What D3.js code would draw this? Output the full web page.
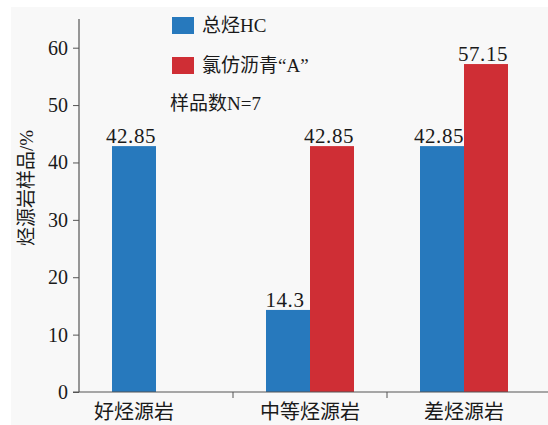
<!DOCTYPE html>
<html>
<head>
<meta charset="utf-8">
<script src="https://cdn.jsdelivr.net/npm/d3@7/dist/d3.min.js"></script>
<style>
  html, body { margin: 0; padding: 0; background: #ffffff; }
  svg { display: block; }
</style>
</head>
<body>
<svg id="chart" width="548" height="425"></svg>
<script>
// Source-rock quality categories and share of samples (%)
const categories = ["好烃源岩", "中等烃源岩", "差烃源岩"];
const seriesNames = ["总烃HC", "氯仿沥青“A”"];
const totalHC = [42.85, 14.3, 42.85];
const bitumenA = [0, 42.85, 57.15];
const yTicks = [0, 10, 20, 30, 40, 50, 60];
const sampleNote = "样品数N=7";
const yTitle = "烃源岩样品/%";

const colors = ["#2779bd", "#cf2e35"];
const seriesValues = [totalHC, bitumenA];

const SERIF = "'Liberation Serif', 'DejaVu Serif', serif";
const CJK = "'Liberation Serif', 'Noto Sans CJK SC', serif";

const svg = d3.select("#chart");
const W = 548, H = 425;
const margin = { left: 79, top: 19, bottom: 33 };
const y0 = H - margin.bottom; // baseline y

// panel background
svg.append("rect").attr("x", 11).attr("y", 7).attr("width", W - 11).attr("height", H - 7)
  .attr("fill", "#f8f8f8");

const x = d3.scaleBand().domain(categories).range([margin.left, margin.left + 462]).paddingInner(0).paddingOuter(0);
const barW = 44;
const y = d3.scaleLinear().domain([0, 65]).range([y0, margin.top]);

// bars with value labels
const g = svg.append("g");
categories.forEach((c, i) => {
  const cx = x(c) + x.bandwidth() / 2;
  seriesValues.forEach((vals, s) => {
    const v = vals[i];
    if (!v) return;
    const bx = s === 0 ? cx - barW : cx;
    g.append("rect")
      .attr("x", bx).attr("y", y(v))
      .attr("width", barW).attr("height", y(0) - y(v))
      .attr("fill", colors[s]);
    g.append("text")
      .attr("x", bx + barW / 2 - 3).attr("y", y(v) - 3)
      .attr("text-anchor", "middle")
      .attr("font-family", SERIF)
      .attr("font-size", 21).attr("letter-spacing", "0.6px")
      .attr("fill", "#1a1a1a")
      .text(d3.format(".2~f")(v));
  });
});

// y axis
const yAxis = d3.axisLeft(y).tickValues(yTicks).tickSize(6).tickPadding(5).tickFormat(d3.format("d"));
const ya = svg.append("g").attr("transform", `translate(${margin.left},0)`).call(yAxis);
ya.attr("font-family", SERIF);
ya.select(".domain").attr("d", `M0,${margin.top}V${y0}`).attr("stroke", "#555").attr("stroke-width", 1.2);
ya.selectAll(".tick line").attr("stroke", "#555");
ya.selectAll(".tick text").attr("font-size", 20).attr("fill", "#1a1a1a").attr("font-family", SERIF);

// x axis baseline with separators between categories
const xa = svg.append("g");
xa.append("line").attr("x1", margin.left - 6).attr("x2", W).attr("y1", y0).attr("y2", y0)
  .attr("stroke", "#555").attr("stroke-width", 1.2);
categories.slice(1).forEach(c => {
  xa.append("line").attr("x1", x(c)).attr("x2", x(c)).attr("y1", y0).attr("y2", y0 + 6)
    .attr("stroke", "#555");
});
// category labels centred under the bars that are drawn
categories.forEach((c, i) => {
  const cx = x(c) + x.bandwidth() / 2;
  const present = seriesValues
    .map((vals, s) => vals[i] ? (s === 0 ? cx - barW / 2 : cx + barW / 2) : null)
    .filter(v => v !== null);
  const lx = d3.mean(present);
  xa.append("text")
    .attr("x", lx).attr("y", y0 + 27)
    .attr("text-anchor", "middle").attr("font-family", CJK)
    .attr("font-size", 20).attr("fill", "#1a1a1a")
    .text(c);
});

// y axis title
svg.append("text")
  .attr("transform", `translate(33,188) rotate(-90)`)
  .attr("text-anchor", "middle").attr("font-family", CJK)
  .attr("font-size", 19).attr("fill", "#1a1a1a")
  .text(yTitle);

// legend
const legend = svg.append("g");
seriesNames.forEach((n, s) => {
  const ly = 17 + s * 40;
  legend.append("rect").attr("x", 172).attr("y", ly).attr("width", 22).attr("height", 17).attr("fill", colors[s]);
  legend.append("text")
    .attr("x", 202).attr("y", ly + 15).attr("font-family", CJK)
    .attr("font-size", 19).attr("fill", "#1a1a1a").text(n);
});
legend.append("text")
  .attr("x", 170).attr("y", 110).attr("font-family", CJK)
  .attr("font-size", 19).attr("fill", "#1a1a1a").text(sampleNote);
</script>
</body>
</html>
